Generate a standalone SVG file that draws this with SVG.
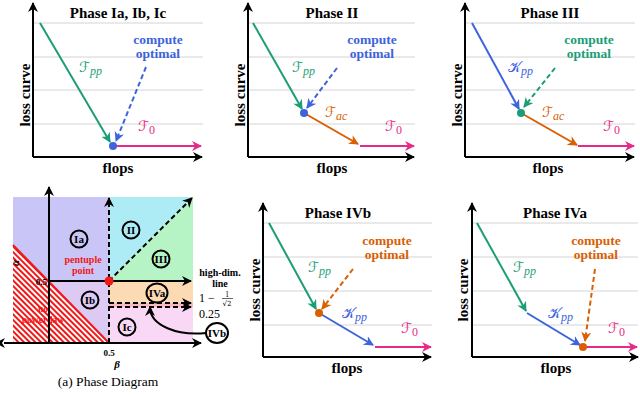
<svg xmlns="http://www.w3.org/2000/svg" width="640" height="397" viewBox="0 0 640 397">
<defs>
<style>
.t{font-family:"Liberation Serif","DejaVu Serif",serif;font-weight:bold}
.ttl{font-size:15px;text-anchor:middle}
.ax{font-size:15px;text-anchor:middle}
.co{font-size:13.5px;text-anchor:middle}
.m{font-family:"DejaVu Serif","DejaVu Sans",serif;font-size:14px;font-weight:normal}
.sub{font-family:"Liberation Serif",serif;font-style:italic;font-size:12px}
.grid{stroke:#d4d4d4;stroke-width:1}
.axis{stroke:#000;stroke-width:2;fill:none}
.g{stroke:#1b9e77;stroke-width:2;fill:none}
.b{stroke:#3d63dd;stroke-width:2;fill:none}
.o{stroke:#d95f02;stroke-width:2;fill:none}
.p{stroke:#e7298a;stroke-width:2;fill:none}
.dash{stroke-dasharray:5,3}
.pd{font-size:10px}
.circ{fill:none;stroke:#000;stroke-width:2}
.cl{font-size:11px;text-anchor:middle}
</style>
<marker id="ak" viewBox="0 0 10 10" refX="9" refY="5" markerWidth="10" markerHeight="10" markerUnits="userSpaceOnUse" orient="auto"><path d="M0,0 L10,5 L0,10 L3,5 z" fill="#000"/></marker>
<marker id="ag" viewBox="0 0 10 10" refX="9" refY="5" markerWidth="10" markerHeight="10" markerUnits="userSpaceOnUse" orient="auto"><path d="M0,0 L10,5 L0,10 L3,5 z" fill="#1b9e77"/></marker>
<marker id="ab" viewBox="0 0 10 10" refX="9" refY="5" markerWidth="10" markerHeight="10" markerUnits="userSpaceOnUse" orient="auto"><path d="M0,0 L10,5 L0,10 L3,5 z" fill="#3d63dd"/></marker>
<marker id="ao" viewBox="0 0 10 10" refX="9" refY="5" markerWidth="10" markerHeight="10" markerUnits="userSpaceOnUse" orient="auto"><path d="M0,0 L10,5 L0,10 L3,5 z" fill="#d95f02"/></marker>
<marker id="ap" viewBox="0 0 10 10" refX="9" refY="5" markerWidth="10" markerHeight="10" markerUnits="userSpaceOnUse" orient="auto"><path d="M0,0 L10,5 L0,10 L3,5 z" fill="#e7298a"/></marker>
<marker id="aks" viewBox="0 0 10 10" refX="1" refY="5" markerWidth="10" markerHeight="10" markerUnits="userSpaceOnUse" orient="auto-start-reverse"><path d="M0,0 L10,5 L0,10 L3,5 z" fill="#000"/></marker>
<pattern id="hatch" patternUnits="userSpaceOnUse" width="4" height="4" patternTransform="rotate(45)">
<rect width="4" height="4" fill="#fff"/><rect width="4" height="2" fill="#f01818"/>
</pattern>
</defs>

<!-- Phase diagram -->
<g id="phase-diagram">
<rect x="13" y="197" width="96" height="146" fill="#c9c6f7"/>
<rect x="49" y="281" width="60" height="62" fill="#dccaf3"/>
<polygon points="109,197 193,197 109,281" fill="#aeecf5"/>
<polygon points="193,197 193,281 109,281" fill="#b6f4c6"/>
<rect x="109" y="281" width="84" height="22" fill="#fcdab4"/>
<rect x="109" y="303" width="84" height="4" fill="#f7b8c3"/>
<rect x="109" y="307" width="84" height="36" fill="#f8d8f4"/>
<polygon points="13,245 109,343 13,343" fill="url(#hatch)"/>
<line x1="13" y1="245" x2="109" y2="343" stroke="#f01818" stroke-width="2"/>
<text class="t" font-size="9.5" fill="#f01818" text-anchor="middle"><tspan x="43" y="312">no</tspan><tspan x="43" y="323">power-law</tspan></text>
<line x1="49" y1="281" x2="191" y2="281" class="axis" marker-end="url(#ak)"/>
<line x1="109" y1="343" x2="109" y2="198" class="axis dash" stroke-width="2" marker-end="url(#ak)"/>
<line x1="109" y1="281" x2="192" y2="198" class="axis dash" marker-end="url(#ak)"/>
<line x1="109" y1="303" x2="191" y2="303" class="axis dash" marker-end="url(#ak)"/>
<line x1="109" y1="307" x2="191" y2="307" class="axis dash" marker-end="url(#ak)"/>
<line x1="49" y1="343" x2="49" y2="187" class="axis" marker-end="url(#ak)"/>
<line x1="4" y1="343" x2="201" y2="343" class="axis" marker-start="url(#aks)" marker-end="url(#ak)"/>
<circle cx="109" cy="281" r="4.5" fill="#f01818"/>
<text class="t" font-size="10" fill="#f01818" text-anchor="middle"><tspan x="83" y="263">pentuple</tspan><tspan x="83" y="274">point</tspan></text>
<text class="t" x="47" y="285" font-size="9" text-anchor="end">0.5</text>
<text class="t" x="109" y="356" font-size="9" text-anchor="middle">0.5</text>
<text class="t" x="117" y="368" font-size="11" font-style="italic" text-anchor="middle">β</text>
<text class="t" font-size="11" font-style="italic" text-anchor="middle" transform="translate(19,263) rotate(-90)">α</text>
<text class="t pd" text-anchor="middle"><tspan x="220" y="276">high-dim.</tspan><tspan x="220" y="287">line</tspan></text>
<text x="199" y="302" font-family="Liberation Serif,serif" font-size="12">1 −</text>
<text x="227" y="297" font-family="Liberation Serif,serif" font-size="7.5" text-anchor="middle">1</text>
<line x1="222" y1="298.5" x2="233" y2="298.5" stroke="#000" stroke-width="0.6"/>
<text x="227" y="305.5" font-family="DejaVu Serif,serif" font-size="7" text-anchor="middle">√2</text>
<text x="199" y="318" font-family="Liberation Serif,serif" font-size="12">0.25</text>
<path d="M206,333 C178,336 150,326 150,307" class="axis" marker-end="url(#ak)"/>
<g id="lbl-Ia"><circle cx="79" cy="239" r="8.5" class="circ"/><text class="t cl" x="79" y="243">Ia</text></g>
<g id="lbl-Ib"><circle cx="90" cy="300" r="8.5" class="circ"/><text class="t cl" x="90" y="304">Ib</text></g>
<g id="lbl-II"><circle cx="131" cy="230" r="8.5" class="circ"/><text class="t cl" x="131" y="234">II</text></g>
<g id="lbl-III"><circle cx="161" cy="259" r="8.5" class="circ"/><text class="t cl" x="161" y="263">III</text></g>
<g id="lbl-IVa"><ellipse cx="157" cy="293" rx="10.5" ry="9.5" class="circ"/><text class="t cl" x="157" y="297">IVa</text></g>
<g id="lbl-Ic"><circle cx="127" cy="327" r="8.5" class="circ"/><text class="t cl" x="127" y="331">Ic</text></g>
<g id="lbl-IVb"><ellipse cx="217" cy="333" rx="11" ry="10" class="circ"/><text class="t cl" x="217" y="337">IVb</text></g>
<text x="108" y="386" font-family="Liberation Serif,serif" font-size="13.5" text-anchor="middle">(a) Phase Diagram</text>
</g>

<!-- Panel I -->
<g id="panel-I">
<g class="grid"><line x1="33" y1="23" x2="203" y2="23"/><line x1="33" y1="57" x2="203" y2="57"/><line x1="33" y1="90" x2="203" y2="90"/><line x1="33" y1="124" x2="203" y2="124"/></g>
<line x1="33" y1="157" x2="33" y2="3" class="axis" marker-end="url(#ak)"/>
<line x1="33" y1="157" x2="202" y2="157" class="axis" marker-end="url(#ak)"/>
<text class="t ttl" x="118" y="18">Phase Ia, Ib, Ic</text>
<text class="t ax" transform="translate(30,95) rotate(-90)">loss curve</text>
<text class="t ax" x="118" y="173">flops</text>
<g id="I-edges">
<line x1="40" y1="23" x2="110" y2="142" class="g" marker-end="url(#ag)"/>
<line x1="113" y1="146" x2="201" y2="146" class="p" marker-end="url(#ap)"/>
<line x1="146" y1="67" x2="116" y2="141" class="b dash" marker-end="url(#ab)"/>
</g>
<circle cx="113" cy="146" r="4" fill="#3d63dd"/>
<text class="t co" fill="#3d63dd"><tspan x="158" y="44">compute</tspan><tspan x="158" y="58">optimal</tspan></text>
<text class="m" x="79" y="72" fill="#1b9e77">ℱ<tspan class="sub" dy="3">pp</tspan></text>
<text class="m" x="138" y="131" fill="#e7298a">ℱ<tspan font-family="Liberation Serif,serif" font-size="12" dy="3">0</tspan></text>
</g>

<!-- Panel II -->
<g id="panel-II">
<g class="grid"><line x1="248" y1="23" x2="415" y2="23"/><line x1="248" y1="57" x2="415" y2="57"/><line x1="248" y1="90" x2="415" y2="90"/><line x1="248" y1="124" x2="415" y2="124"/></g>
<line x1="248" y1="157" x2="248" y2="3" class="axis" marker-end="url(#ak)"/>
<line x1="248" y1="157" x2="414" y2="157" class="axis" marker-end="url(#ak)"/>
<text class="t ttl" x="332" y="18">Phase II</text>
<text class="t ax" transform="translate(245,95) rotate(-90)">loss curve</text>
<text class="t ax" x="332" y="173">flops</text>
<g id="II-edges">
<line x1="253" y1="23" x2="302" y2="109" class="g" marker-end="url(#ag)"/>
<line x1="304" y1="113" x2="358" y2="144" class="o" marker-end="url(#ao)"/>
<line x1="360" y1="146" x2="414" y2="146" class="p" marker-end="url(#ap)"/>
<line x1="337" y1="68" x2="307" y2="108" class="b dash" marker-end="url(#ab)"/>
</g>
<circle cx="304" cy="113" r="4" fill="#3d63dd"/>
<text class="t co" fill="#3d63dd"><tspan x="372" y="44">compute</tspan><tspan x="372" y="58">optimal</tspan></text>
<text class="m" x="292" y="72" fill="#1b9e77">ℱ<tspan class="sub" dy="3">pp</tspan></text>
<text class="m" x="325" y="117" fill="#d95f02">ℱ<tspan class="sub" dy="3">ac</tspan></text>
<text class="m" x="385" y="131" fill="#e7298a">ℱ<tspan font-family="Liberation Serif,serif" font-size="12" dy="3">0</tspan></text>
</g>

<!-- Panel III -->
<g id="panel-III">
<g class="grid"><line x1="465" y1="23" x2="635" y2="23"/><line x1="465" y1="57" x2="635" y2="57"/><line x1="465" y1="90" x2="635" y2="90"/><line x1="465" y1="124" x2="635" y2="124"/></g>
<line x1="465" y1="157" x2="465" y2="3" class="axis" marker-end="url(#ak)"/>
<line x1="465" y1="157" x2="634" y2="157" class="axis" marker-end="url(#ak)"/>
<text class="t ttl" x="550" y="18">Phase III</text>
<text class="t ax" transform="translate(462,95) rotate(-90)">loss curve</text>
<text class="t ax" x="548" y="173">flops</text>
<g id="III-edges">
<line x1="472" y1="23" x2="519" y2="109" class="b" marker-end="url(#ab)"/>
<line x1="521" y1="113" x2="577" y2="145" class="o" marker-end="url(#ao)"/>
<line x1="578" y1="146" x2="634" y2="146" class="p" marker-end="url(#ap)"/>
<line x1="555" y1="68" x2="524" y2="107" class="g dash" marker-end="url(#ag)"/>
</g>
<circle cx="521" cy="113" r="4" fill="#1b9e77"/>
<text class="t co" fill="#1b9e77"><tspan x="589" y="44">compute</tspan><tspan x="589" y="58">optimal</tspan></text>
<text class="m" x="508" y="72" fill="#3d63dd">𝒦<tspan class="sub" dy="3">pp</tspan></text>
<text class="m" x="542" y="117" fill="#d95f02">ℱ<tspan class="sub" dy="3">ac</tspan></text>
<text class="m" x="603" y="131" fill="#e7298a">ℱ<tspan font-family="Liberation Serif,serif" font-size="12" dy="3">0</tspan></text>
</g>

<!-- Panel IVb -->
<g id="panel-IVb">
<g class="grid"><line x1="263" y1="223" x2="432" y2="223"/><line x1="263" y1="257" x2="432" y2="257"/><line x1="263" y1="291" x2="432" y2="291"/><line x1="263" y1="325" x2="432" y2="325"/></g>
<line x1="263" y1="357" x2="263" y2="203" class="axis" marker-end="url(#ak)"/>
<line x1="263" y1="357" x2="431" y2="357" class="axis" marker-end="url(#ak)"/>
<text class="t ttl" x="338" y="218">Phase IVb</text>
<text class="t ax" transform="translate(260,290) rotate(-90)">loss curve</text>
<text class="t ax" x="347" y="373">flops</text>
<g id="IVb-edges">
<line x1="269" y1="223" x2="316" y2="309" class="g" marker-end="url(#ag)"/>
<line x1="319" y1="313" x2="373" y2="345" class="b" marker-end="url(#ab)"/>
<line x1="375" y1="347" x2="431" y2="347" class="p" marker-end="url(#ap)"/>
<line x1="353" y1="269" x2="322" y2="309" class="o dash" marker-end="url(#ao)"/>
</g>
<circle cx="319" cy="313" r="4" fill="#d95f02"/>
<text class="t co" fill="#d95f02"><tspan x="387" y="245">compute</tspan><tspan x="387" y="259">optimal</tspan></text>
<text class="m" x="308" y="272" fill="#1b9e77">ℱ<tspan class="sub" dy="3">pp</tspan></text>
<text class="m" x="342" y="318" fill="#3d63dd">𝒦<tspan class="sub" dy="3">pp</tspan></text>
<text class="m" x="401" y="333" fill="#e7298a">ℱ<tspan font-family="Liberation Serif,serif" font-size="12" dy="3">0</tspan></text>
</g>

<!-- Panel IVa -->
<g id="panel-IVa">
<g class="grid"><line x1="472" y1="223" x2="638" y2="223"/><line x1="472" y1="257" x2="638" y2="257"/><line x1="472" y1="291" x2="638" y2="291"/><line x1="472" y1="325" x2="638" y2="325"/></g>
<line x1="472" y1="357" x2="472" y2="203" class="axis" marker-end="url(#ak)"/>
<line x1="472" y1="357" x2="638" y2="357" class="axis" marker-end="url(#ak)"/>
<text class="t ttl" x="555" y="218">Phase IVa</text>
<text class="t ax" transform="translate(468,290) rotate(-90)">loss curve</text>
<text class="t ax" x="556" y="373">flops</text>
<g id="IVa-edges">
<line x1="477" y1="223" x2="526" y2="311" class="g" marker-end="url(#ag)"/>
<line x1="527" y1="313" x2="580" y2="345" class="b" marker-end="url(#ab)"/>
<line x1="583" y1="347" x2="637" y2="347" class="p" marker-end="url(#ap)"/>
<line x1="595" y1="269" x2="585" y2="341" class="o dash" marker-end="url(#ao)"/>
</g>
<circle cx="583" cy="347" r="4" fill="#d95f02"/>
<text class="t co" fill="#d95f02"><tspan x="596" y="245">compute</tspan><tspan x="596" y="259">optimal</tspan></text>
<text class="m" x="513" y="272" fill="#1b9e77">ℱ<tspan class="sub" dy="3">pp</tspan></text>
<text class="m" x="548" y="318" fill="#3d63dd">𝒦<tspan class="sub" dy="3">pp</tspan></text>
<text class="m" x="608" y="333" fill="#e7298a">ℱ<tspan font-family="Liberation Serif,serif" font-size="12" dy="3">0</tspan></text>
</g>
</svg>
